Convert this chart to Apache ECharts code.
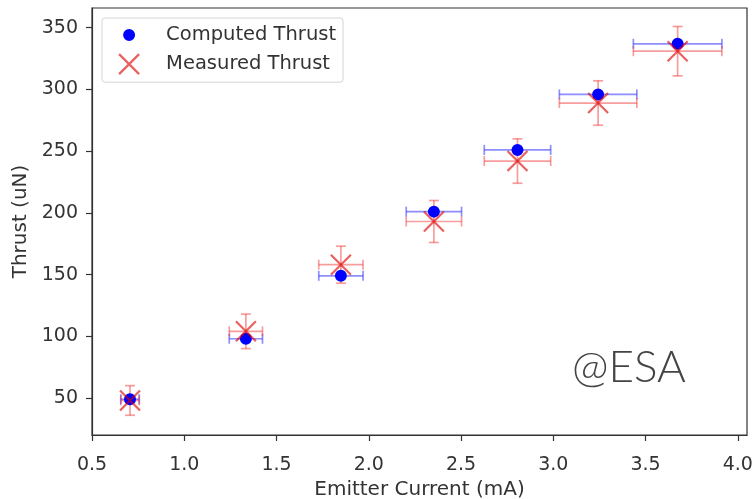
<!DOCTYPE html>
<html><head><meta charset="utf-8">
<script src="https://cdn.jsdelivr.net/npm/echarts@6/dist/echarts.min.js"></script>
<style>html,body{margin:0;padding:0;background:#fff}#c{width:756px;height:499px}</style>
</head><body><div id="c"></div>
<script>
// ---- data ----
const current = [0.706, 1.334, 1.849, 2.353, 2.806, 3.243, 3.674];      // mA
const currentErr = [0.05, 0.09, 0.12, 0.15, 0.18, 0.21, 0.24];          // mA
const computedThrust = [49, 98, 149, 201, 251, 296, 337];               // uN
const measuredThrust = [48, 104, 158, 193, 242, 289, 331];              // uN
const measuredErr = [12, 14, 15, 17, 18, 18, 20];                       // uN
const xTicks = [0.5, 1.0, 1.5, 2.0, 2.5, 3.0, 3.5, 4.0];
const yTicks = [50, 100, 150, 200, 250, 300, 350];
const seriesNames = ['Computed Thrust', 'Measured Thrust'];

const FONT = 'DejaVu Sans';
const TXT = '#333';
const BLUE = '#0000ff';
const BLUE_BAR = 'rgba(50,50,255,0.55)';
const RED_X = 'rgba(220,0,0,0.78)';
const RED_BAR = 'rgba(240,50,50,0.48)';

const dotPath = 'path://M0,0L0,0ZM20,20L20,20ZM4,10A6,6 0 1,1 16,10A6,6 0 1,1 4,10Z';
const crossPath = 'path://M0,0L20,20M20,0L0,20';

function errRender(color) {
  return function (params, api) {
    const x = api.value(0), y = api.value(1), ex = api.value(2), ey = api.value(3);
    const c = api.coord([x, y]);
    const l = api.coord([x - ex, y]);
    const r = api.coord([x + ex, y]);
    const cap = 5;
    const style = { stroke: color, lineWidth: 1.7, fill: null };
    const ch = [];
    ch.push({ type: 'line', shape: { x1: l[0], y1: c[1], x2: r[0], y2: c[1] }, style });
    ch.push({ type: 'line', shape: { x1: l[0], y1: c[1] - cap, x2: l[0], y2: c[1] + cap }, style });
    ch.push({ type: 'line', shape: { x1: r[0], y1: c[1] - cap, x2: r[0], y2: c[1] + cap }, style });
    if (ey > 0) {
      const t = api.coord([x, y + ey]);
      const b = api.coord([x, y - ey]);
      ch.push({ type: 'line', shape: { x1: c[0], y1: t[1], x2: c[0], y2: b[1] }, style });
      ch.push({ type: 'line', shape: { x1: c[0] - cap, y1: t[1], x2: c[0] + cap, y2: t[1] }, style });
      ch.push({ type: 'line', shape: { x1: c[0] - cap, y1: b[1], x2: c[0] + cap, y2: b[1] }, style });
    }
    return { type: 'group', children: ch };
  };
}

const chart = echarts.init(document.getElementById('c'), null, { renderer: 'canvas' });
chart.setOption({
  animation: false,
  backgroundColor: '#fff',
  textStyle: { fontFamily: FONT },
  grid: { left: 92, right: 9, top: 8, bottom: 64, outerBoundsMode: 'none', containLabel: false,
          show: true, borderColor: '#333', borderWidth: 1.2, backgroundColor: 'transparent' },
  legend: {
    orient: 'vertical', left: 102, top: 18,
    padding: [7, 7, 7, 16], itemGap: 8, itemWidth: 36, itemHeight: 20,
    backgroundColor: '#fff', borderColor: '#d4d4d4', borderWidth: 1, borderRadius: 3,
    textStyle: { fontSize: 19.5, color: TXT, fontFamily: FONT, padding: [0, 0, 0, 14] },
    data: [
      { name: seriesNames[0], itemStyle: { color: BLUE, borderWidth: 0 } },
      { name: seriesNames[1], itemStyle: { color: 'transparent', borderColor: RED_X, borderWidth: 2.2 } }
    ]
  },
  xAxis: {
    type: 'value', min: 0.5, max: 4.05,
    axisLine: { show: true, onZero: false, lineStyle: { color: '#333', width: 1.2 } },
    axisTick: { show: true, length: 6, customValues: xTicks, lineStyle: { color: '#333', width: 1.2 } },
    axisLabel: { customValues: xTicks, formatter: v => Number(v).toFixed(1), fontSize: 19, color: TXT, margin: 21, fontFamily: FONT },
    splitLine: { show: false },
    name: 'Emitter Current (mA)', nameLocation: 'middle', nameGap: 44,
    nameTextStyle: { fontSize: 20, color: TXT, fontFamily: FONT }
  },
  yAxis: {
    type: 'value', min: 20, max: 366,
    axisLine: { show: true, onZero: false, lineStyle: { color: '#333', width: 1.2 } },
    axisTick: { show: true, length: 6, customValues: yTicks, lineStyle: { color: '#333', width: 1.2 } },
    axisLabel: { customValues: yTicks, fontSize: 19, color: TXT, margin: 14, fontFamily: FONT },
    splitLine: { show: false },
    name: 'Thrust (uN)', nameLocation: 'middle', nameGap: 61,
    nameTextStyle: { fontSize: 20, color: TXT, fontFamily: FONT }
  },
  graphic: [{
    type: 'text', left: 572, top: 346, z: 10,
    style: { text: '@ESA', font: '300 44px Lato', fill: '#444' }
  }],
  series: [
    {
      type: 'custom', name: 'computedErr', renderItem: errRender(BLUE_BAR),
      data: current.map((x, i) => [x, computedThrust[i], currentErr[i], 0]),
      encode: { x: 0, y: 1 }, silent: true
    },
    {
      type: 'scatter', name: seriesNames[0], symbol: dotPath, symbolSize: 20,
      itemStyle: { color: BLUE, borderWidth: 0, opacity: 1 },
      data: current.map((x, i) => [x, computedThrust[i]])
    },
    {
      type: 'custom', name: 'measuredErr', renderItem: errRender(RED_BAR),
      data: current.map((x, i) => [x, measuredThrust[i], currentErr[i], measuredErr[i]]),
      encode: { x: 0, y: 1 }, silent: true
    },
    {
      type: 'scatter', name: seriesNames[1], symbol: crossPath, symbolSize: 20,
      itemStyle: { color: 'transparent', borderColor: RED_X, borderWidth: 2.2 },
      data: current.map((x, i) => [x, measuredThrust[i]])
    }
  ]
});
</script>
</body></html>
